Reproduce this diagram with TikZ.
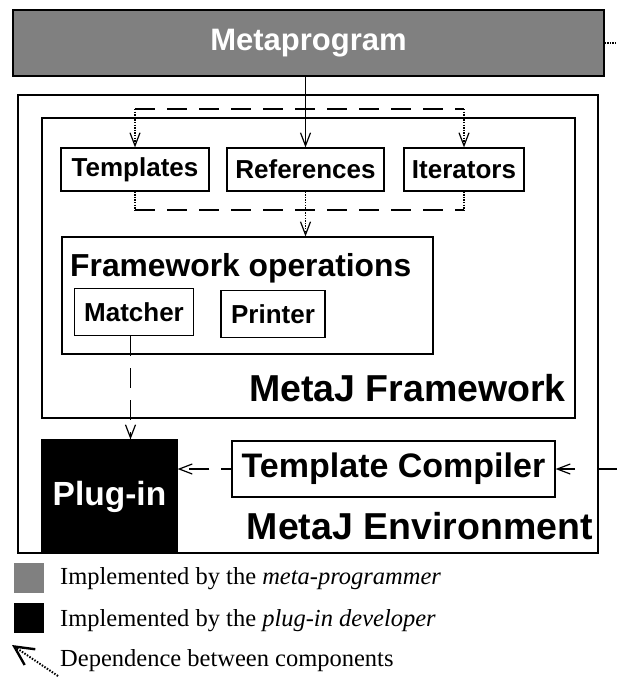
\documentclass[tikz,border=0pt]{standalone}
\usepackage{fontspec}
\setmainfont{Liberation Serif}
\newfontfamily\boldsans{Liberation Sans}
\usetikzlibrary{arrows.meta}
\definecolor{mgray}{RGB}{128,128,128}
\newcommand{\myfs}[1]{\fontsize{#1}{#1}\selectfont}
\tikzset{
  box/.style={draw, line width=1.2pt, inner sep=0pt, font=\boldsans\bfseries\myfs{26}},
  lbl/.style={inner sep=0pt, font=\boldsans\bfseries\myfs{37.5}},
  tip/.style={-{Straight Barb[length=13pt,width=10pt,line width=1.2pt]}},
  dashln/.style={line width=1.3pt, dash pattern=on 20pt off 12pt},
  dotln/.style={line width=1.3pt, dash pattern=on 1.3pt off 1.3pt},
  solidln/.style={line width=1.3pt},
  legtext/.style={inner sep=0pt, anchor=west, font=\myfs{24.5}}
}
\begin{document}
\begin{tikzpicture}[x=1pt,y=-1pt]
\useasboundingbox (0,0) rectangle (617,677);
% outer boxes
\node[box, minimum width=580pt, minimum height=458pt] (env) at (308,324) {};
\node[box, minimum width=533pt, minimum height=300pt] (fw) at (308.5,268) {};
\node[box, fill=mgray, text=white, minimum width=591pt, minimum height=66pt, font=\boldsans\bfseries\myfs{31}] (meta) at (308.5,43) {Metaprogram};
% inner boxes
\node[box, minimum width=148pt, minimum height=43pt] (tpl) at (135,169.5) {Templates};
\node[box, minimum width=157pt, minimum height=43pt] (ref) at (305.5,169.5) {References};
\node[box, minimum width=120pt, minimum height=43pt] (itr) at (464,169.5) {Iterators};
\node[box, minimum width=371pt, minimum height=117pt] (ops) at (247.5,295.5) {};
\node[lbl, anchor=base west, font=\boldsans\bfseries\myfs{31.8}] (opstitle) at (70,276) {Framework operations};
\node[box, minimum width=119pt, minimum height=47pt] (mat) at (134,312) {Matcher};
\node[box, minimum width=104pt, minimum height=47pt] (prn) at (273,314) {Printer};
\node[lbl, anchor=base east] (fwlabel) at (566,401) {MetaJ Framework};
\node[box, fill=black, text=white, minimum width=135pt, minimum height=113pt, font=\boldsans\bfseries\myfs{33.5}] (plug) at (109.5,496.5) {Plug-in};
\node[box, minimum width=323pt, minimum height=56pt, font=\boldsans\bfseries\myfs{34}] (tc) at (393.5,469) {Template Compiler};
\node[lbl, anchor=base east] (envlabel) at (593,539) {MetaJ Environment};
% connectors
\coordinate (topy) at (0,109);
\coordinate (boty) at (0,210);
\coordinate (metaout) at (617,43);
\coordinate (tcin) at (617,469);
\coordinate (matout) at ([xshift=-3.5pt]mat.south);
\draw[dotln] (meta.east) -- (metaout);
\draw[solidln, tip] (ref.north |- meta.south) -- (ref.north);
\draw[dashln] (tpl.north |- topy) -- (itr.north |- topy);
\draw[dotln, tip] (tpl.north |- topy) -- (tpl.north);
\draw[dotln, tip] (itr.north |- topy) -- (itr.north);
\draw[dotln] (tpl.south) -- (tpl.south |- boty);
\draw[dotln] (itr.south) -- (itr.south |- boty);
\draw[dashln] (tpl.south |- boty) -- (itr.south |- boty);
\draw[dotln, tip] (ref.south) -- (ref.south |- ops.north);
\draw[dashln, tip] (matout) -- (matout |- plug.north);
\draw[dashln, tip, dash pattern=on 10pt off 12pt on 20pt off 12pt] (tc.west) -- (tc.west -| plug.east);
\draw[dashln, tip, dash pattern=on 18pt off 24pt on 20pt off 12pt] (tcin) -- (tc.east);
% legend
\node[draw=none, fill=mgray, minimum width=30pt, minimum height=30pt, inner sep=0pt] (lg1) at (29,578) {};
\node[legtext] (lt1) at (60,579) {Implemented by the \textit{meta-programmer}};
\node[draw=none, fill=black, minimum width=30pt, minimum height=30pt, inner sep=0pt] (lg2) at (29,618) {};
\node[legtext] (lt2) at (60,621) {Implemented by the \textit{plug-in developer}};
\node[legtext] (lt3) at (60,661) {Dependence between components};
\coordinate (ltail) at (58,676);
\coordinate (lhead) at (12,645);
\draw[line width=2pt, dash pattern=on 1.5pt off 1.5pt, -{Straight Barb[length=19pt,width=19pt,line width=2.4pt]}] (ltail) -- (lhead);
\end{tikzpicture}
\end{document}
